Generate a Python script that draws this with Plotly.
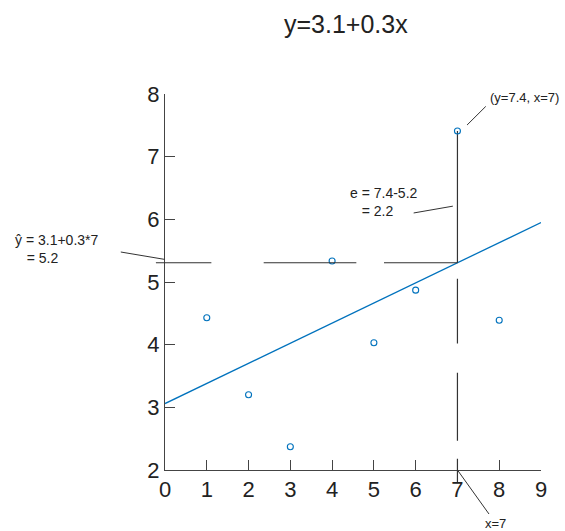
import numpy as np
import plotly.graph_objects as go

# ---------------- data ----------------
x_obs = [1, 2, 3, 4, 5, 6, 7, 8]
y_obs = [4.43, 3.20, 2.37, 5.335, 4.03, 4.87, 7.41, 4.39]

x_ticks = [0, 1, 2, 3, 4, 5, 6, 7, 8, 9]
y_ticks = [2, 3, 4, 5, 6, 7, 8]
x_range = [0, 9]
y_range = [2, 8]

title_text = "y=3.1+0.3x"
x_focus = 7

# dashed guide segments (data units)
h_dash_x = [[-0.23, 1.11], [2.35, 4.58], [5.23, 7.0]]   # at y = y-hat(7)
v_dash_y = [[5.05, 4.01], [3.55, 2.46], [2.18, 1.80]]   # at x = 7

# callout pointer lines: [tail_x, tail_y, head_x, head_y]
ptr_top = [7.69, 7.81, 7.23, 7.505]
ptr_e = [5.94, 6.10, 6.89, 6.21]
ptr_left = [-1.07, 5.48, 0.0, 5.36]

label_top = "(y=7.4, x=7)"
label_e = "e = 7.4-5.2<br>\u00a0\u00a0\u00a0= 2.2"
label_left = "\u0177 = 3.1+0.3*7<br>\u00a0\u00a0\u00a0= 5.2"
label_bottom = "x=7"

# ---------------- styles ----------------
BLUE = "#0072BD"
DARK = "#333333"
FONT = "Liberation Sans, Arial, sans-serif"

slope, intercept = np.polyfit(x_obs, y_obs, 1)
x_line = np.array(x_range, dtype=float)
y_line = intercept + slope * x_line
y_hat = intercept + slope * x_focus

fig = go.Figure()

# regression line
fig.add_trace(go.Scatter(x=x_line, y=y_line, mode="lines",
                         line=dict(color=BLUE, width=1.3), hoverinfo="skip"))

# solid residual line
fig.add_trace(go.Scatter(x=[x_focus, x_focus], y=[y_obs[x_obs.index(x_focus)], y_hat],
                         mode="lines", line=dict(color=DARK, width=1.2), hoverinfo="skip"))

# observations
fig.add_trace(go.Scatter(x=x_obs, y=y_obs, mode="markers",
                         marker=dict(symbol="circle-open", size=6, color=BLUE,
                                     line=dict(width=1.1, color=BLUE))))

annotations = []


def seg(x0, y0, x1, y1, width=1.2):
    # head (x1,y1) must lie inside the axis range
    annotations.append(dict(x=x1, y=y1, ax=x0, ay=y0, xref="x", yref="y",
                            axref="x", ayref="y", text="", showarrow=True,
                            arrowhead=0, arrowwidth=width, arrowcolor=DARK,
                            standoff=0, startstandoff=0, borderpad=0,
                            font=dict(size=1)))


for a, b in h_dash_x:
    seg(min(a, b), y_hat, max(a, b), y_hat)
for a, b in v_dash_y:
    seg(x_focus, min(a, b), x_focus, max(a, b))

for p in (ptr_top, ptr_e, ptr_left):
    seg(p[0], p[1], p[2], p[3], width=1.0)

annotations.append(dict(x=7.74, y=7.95, xref="x", yref="y", text=label_top,
                        showarrow=False, xanchor="left", yanchor="middle",
                        font=dict(family=FONT, size=13, color="#222")))
annotations.append(dict(x=4.39, y=6.28, xref="x", yref="y", text=label_e,
                        showarrow=False, xanchor="left", yanchor="middle", align="left",
                        font=dict(family=FONT, size=14, color="#222")))
annotations.append(dict(x=0, y=5.52, xref="x", yref="y", text=label_left,
                        showarrow=False, xanchor="right", yanchor="middle", align="left",
                        xshift=-64,
                        font=dict(family=FONT, size=14, color="#222")))
annotations.append(dict(x=x_focus, y=y_range[0], xref="x", yref="y", text=label_bottom,
                        showarrow=True, arrowhead=0, arrowwidth=1.0, arrowcolor=DARK,
                        ax=38, ay=53, standoff=0,
                        font=dict(family=FONT, size=13, color="#222")))

axis_common = dict(showgrid=False, zeroline=False, showline=True, linecolor="#444",
                   linewidth=1, ticks="inside", ticklen=10, tickwidth=1, tickcolor="#444",
                   tickfont=dict(family=FONT, size=22, color="#222"), mirror=False)

fig.update_layout(
    width=565, height=531,
    margin=dict(l=165, r=24, t=94, b=61),
    paper_bgcolor="white", plot_bgcolor="white",
    showlegend=False,
    font=dict(family=FONT),
    title=dict(text=title_text, x=0.481, xref="paper", xanchor="center",
               y=1 - 24 / 531, yref="container", yanchor="middle",
               font=dict(family=FONT, size=25, color="#222")),
    xaxis=dict(range=x_range, tickvals=x_ticks, **axis_common),
    yaxis=dict(range=y_range, tickvals=y_ticks, **axis_common),
    annotations=annotations,
)

fig.write_html("out.html")
